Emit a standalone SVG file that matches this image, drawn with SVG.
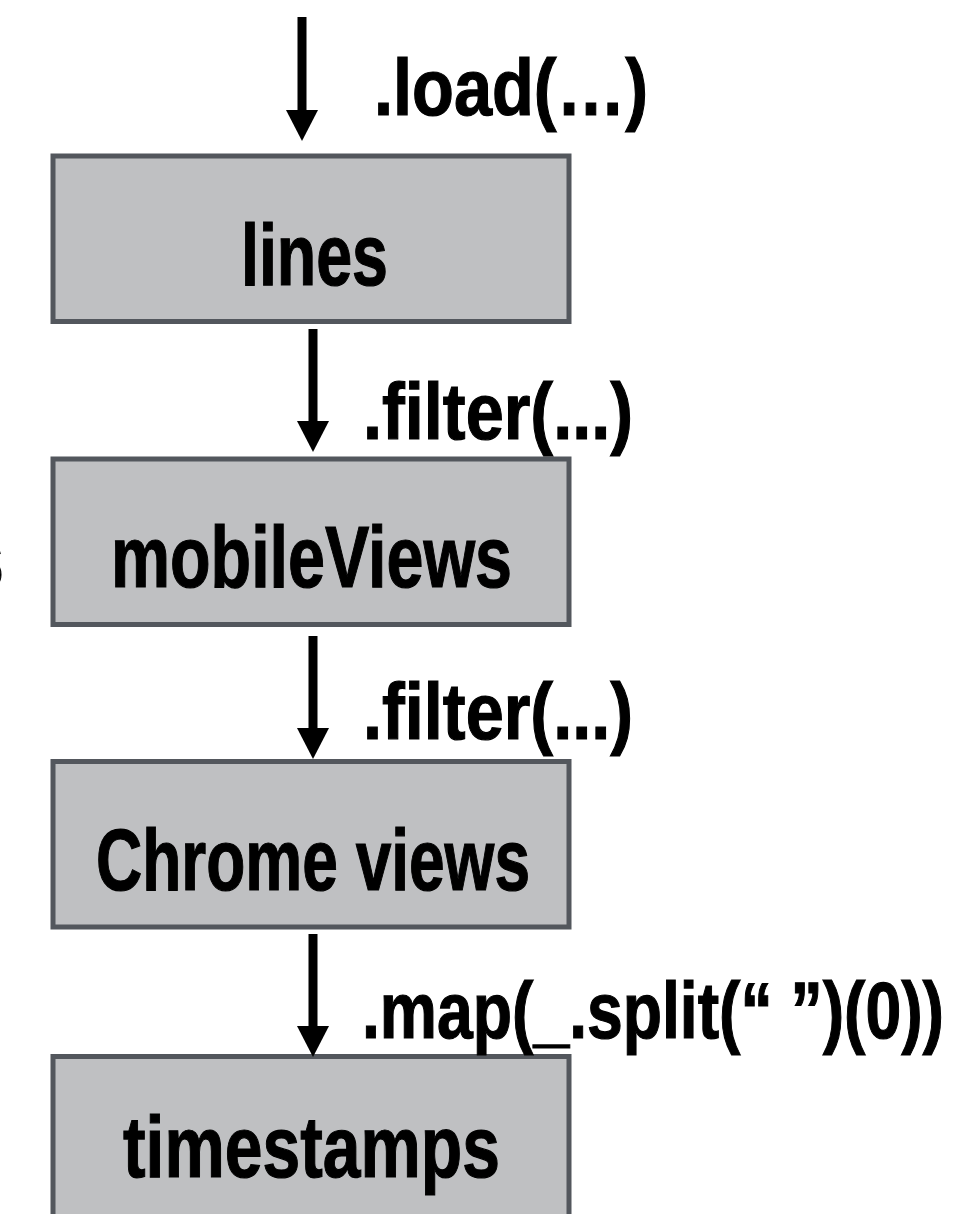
<svg xmlns="http://www.w3.org/2000/svg" width="963" height="1214" viewBox="0 0 963 1214">
  <style>
    .box { fill: #bfc0c2; stroke: #53575d; stroke-width: 5; }
    .node { font-family: "Liberation Sans", Arial, sans-serif; font-weight: bold; font-size: 88px; fill: #000; stroke: #000; stroke-width: 1.2; text-anchor: middle; }
    .lbl { font-family: "Liberation Sans", Arial, sans-serif; font-weight: bold; font-size: 80px; fill: #000; stroke: #000; stroke-width: 1.2; }
    .edge { stroke: #000; stroke-width: 9; fill: none; marker-end: url(#head); }
  </style>
  <defs>
    <marker id="head" markerUnits="userSpaceOnUse" viewBox="0 0 31 32" refX="0" refY="16" markerWidth="31" markerHeight="32" orient="auto">
      <path d="M0,0 L31,16 L0,32 Z" fill="#000"/>
    </marker>
  </defs>
  <rect width="963" height="1214" fill="#fff"/>

  <text class="node" x="4" y="588" style="text-anchor:end" textLength="40" lengthAdjust="spacingAndGlyphs">s</text>

  <g id="lines">
    <rect class="box" x="53" y="156" width="516" height="165.5"/>
    <text class="node" x="314.5" y="285" textLength="147" lengthAdjust="spacingAndGlyphs">lines</text>
  </g>
  <g id="mobileViews">
    <rect class="box" x="53" y="459" width="516" height="165.5"/>
    <text class="node" x="311.5" y="587" textLength="401" lengthAdjust="spacingAndGlyphs">mobileViews</text>
  </g>
  <g id="chromeViews">
    <rect class="box" x="53" y="761.5" width="516" height="165.5"/>
    <text class="node" x="313" y="890" textLength="434" lengthAdjust="spacingAndGlyphs">Chrome views</text>
  </g>
  <g id="timestamps">
    <rect class="box" x="53" y="1056.5" width="516" height="180"/>
    <text class="node" x="311.5" y="1177" textLength="377" lengthAdjust="spacingAndGlyphs">timestamps</text>
  </g>

  <g id="connectors">
    <line class="edge" x1="302" y1="17" x2="302" y2="110"/>
    <line class="edge" x1="313" y1="329" x2="313" y2="421"/>
    <line class="edge" x1="313" y1="636" x2="313" y2="728"/>
    <line class="edge" x1="313" y1="934" x2="313" y2="1026"/>
    <text class="lbl" x="374" y="115" textLength="274" lengthAdjust="spacingAndGlyphs">.load(…)</text>
    <text class="lbl" x="363" y="439" textLength="270" lengthAdjust="spacingAndGlyphs">.filter(...)</text>
    <text class="lbl" x="363" y="739" textLength="270" lengthAdjust="spacingAndGlyphs">.filter(...)</text>
    <text class="lbl" x="362" y="1038" textLength="582" lengthAdjust="spacingAndGlyphs">.map(_.split(“ ”)(0))</text>
  </g>
</svg>
